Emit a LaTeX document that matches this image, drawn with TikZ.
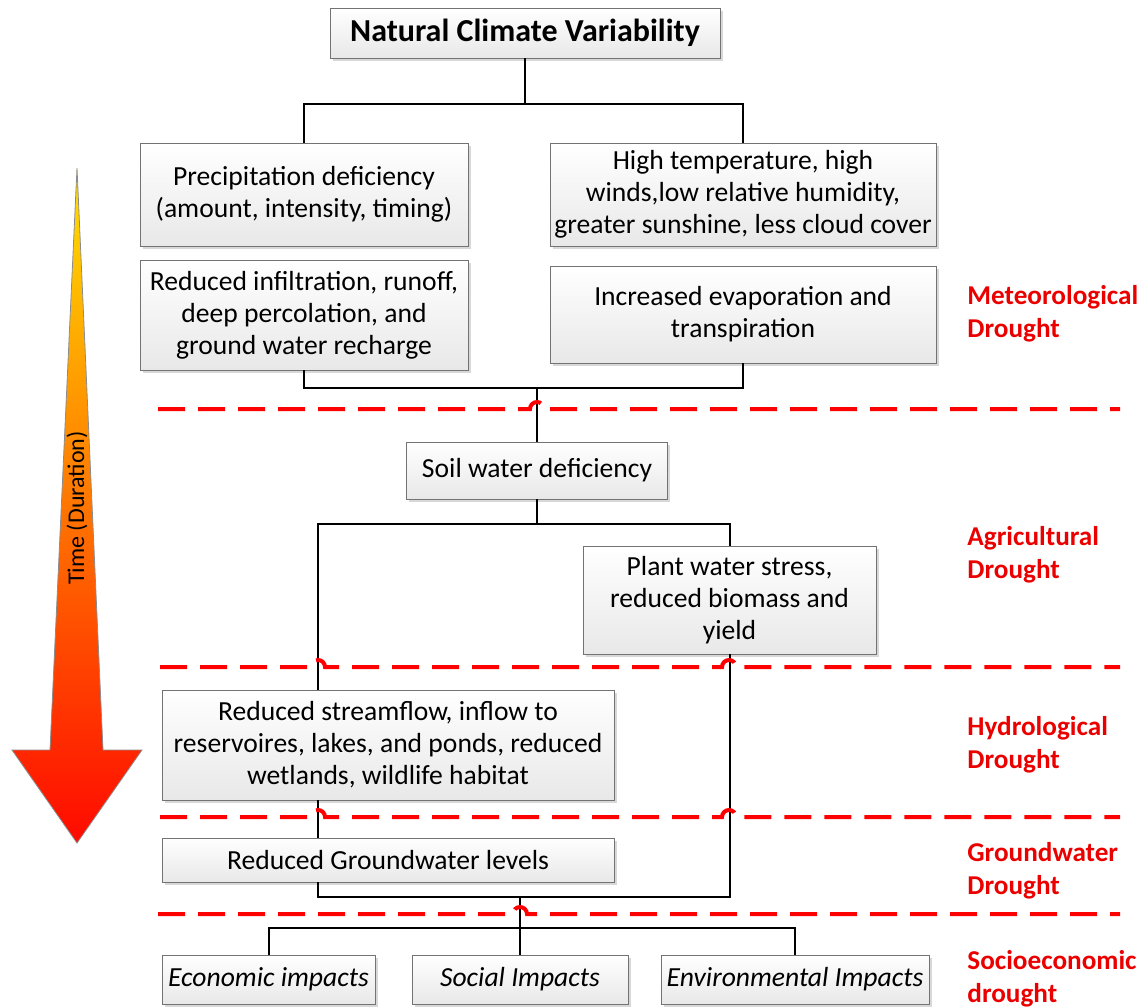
\documentclass[tikz,border=0pt]{standalone}
\usepackage{fontspec}
\setmainfont{Carlito}
\usepackage{tikz}
\usetikzlibrary{calc,shadows}
\definecolor{TimeYellow}{RGB}{255,225,0}
\definecolor{TimeOrange}{RGB}{255,130,0}
\definecolor{TimeRed}{RGB}{255,10,0}
\tikzset{
  dr/box/.style={draw=black!55, thin, top color=white, bottom color=black!9, align=center,
    inner sep=2pt, font=\fontsize{13.8}{16}\selectfont,
    drop shadow={shadow xshift=1.3pt, shadow yshift=-1.3pt, fill=black!30, opacity=0.5}},
  dr/title/.style={font=\bfseries\fontsize{16}{19}\selectfont},
  dr/impact/.style={font=\itshape\fontsize{13.8}{16}\selectfont, minimum height=24.5pt},
  dr/level/.style={anchor=west, align=left, inner sep=0pt, text=red!92!black,
    font=\bfseries\fontsize{13.6}{16.5}\selectfont},
  dr/link/.style={line width=1pt, black},
  dr/border/.style={line width=2pt, red, dash pattern=on 13.5pt off 6.5pt},
  dr/time/.style={draw=black!45, thin, top color=TimeYellow, middle color=TimeOrange, bottom color=TimeRed}
}

\begin{document}
\begin{tikzpicture}[x=0.5pt,y=-0.5pt]
\useasboundingbox (0,0) rectangle (1143,1007);
% time arrow
\shadedraw[dr/time] (77,168) -- (103,750) -- (142,750) -- (77,843) -- (12,750) -- (50,750) -- cycle;
\node[rotate=90, inner sep=0pt, font=\fontsize{12}{14}\selectfont] (time) at (77,508) {Time (Duration)};

% boxes
\node[dr/box, dr/title, minimum width=195pt, minimum height=25pt] (ncv) at (525,33) {Natural Climate Variability};
\node[dr/box, minimum width=164pt, minimum height=51.5pt] (precip) at (304,194.5) {Precipitation deficiency\\(amount, intensity, timing)};
\node[dr/box, minimum width=193pt, minimum height=51.5pt] (heat) at (743,194.5) {High temperature, high\\winds,low relative humidity,\\greater sunshine, less cloud cover};
\node[dr/box, minimum width=164pt, minimum height=55pt] (infil) at (304,315) {Reduced infiltration, runoff,\\deep percolation, and\\ground water recharge};
\node[dr/box, minimum width=193pt, minimum height=48.5pt] (evap) at (743,314.5) {Increased evaporation and\\transpiration};
\node[dr/box, minimum width=130.5pt, minimum height=28.5pt] (soil) at (537,470.5) {Soil water deficiency};
\node[dr/box, minimum width=146.5pt, minimum height=54pt] (plant) at (729.5,600) {Plant water stress,\\reduced biomass and\\yield};
\node[dr/box, minimum width=226pt, minimum height=55pt] (hydro) at (388,745) {Reduced streamflow, inflow to\\reservoires, lakes, and ponds, reduced\\wetlands, wildlife habitat};
\node[dr/box, minimum width=226pt, minimum height=22pt] (ground) at (388,860) {Reduced Groundwater levels};
\node[dr/box, dr/impact, minimum width=106.5pt] (econ) at (268.5,979.5) {Economic impacts};
\node[dr/box, dr/impact, minimum width=108pt] (social) at (520,979.5) {Social Impacts};
\node[dr/box, dr/impact, minimum width=134pt] (env) at (795,979.5) {Environmental Impacts};

% drought levels
\node[dr/level] (meteo) at (967,314) {Meteorological\\Drought};
\node[dr/level] (agri) at (967,555) {Agricultural\\Drought};
\node[dr/level] (hydrol) at (967,745) {Hydrological\\Drought};
\node[dr/level] (groundw) at (967,871) {Groundwater\\Drought};
\node[dr/level] (socio) at (967,979) {Socioeconomic\\drought};

% connectors
\coordinate (split) at (525,104);
\coordinate (merge) at (537,388);
\coordinate (fork) at (537,524);
\coordinate (join) at (520,897);
\coordinate (impact) at (520,928);
\draw[dr/link] (ncv.south) -- (split);
\draw[dr/link] (precip.north) |- (split) -| (heat.north);
\draw[dr/link] (infil.south) |- (merge) -| (evap.south);
\draw[dr/link] (merge) -- (soil.north);
\draw[dr/link] (soil.south) -- (fork);
\draw[dr/link] ($(hydro.north west)+(156,0)$) |- (fork) -| (plant.north);
\draw[dr/link] ($(hydro.south west)+(156,0)$) -- ($(ground.north west)+(156,0)$);
\draw[dr/link] ($(ground.south west)+(156,0)$) |- (join) -| (plant.south);
\draw[dr/link] (join) -- (impact);
\draw[dr/link] (econ.north) |- (impact) -| (env.north);
\draw[dr/link] (impact) -- (social.north);

% level borders with line hops
\draw[dr/border] (158,409) -- (530,409) arc[start angle=180, end angle=360, radius=7] -- (1120,409);
\draw[dr/border] (160,667) -- (311,667) arc[start angle=180, end angle=360, radius=7] -- (722,667) arc[start angle=180, end angle=360, radius=7] -- (1120,667);
\draw[dr/border] (160,817) -- (311,817) arc[start angle=180, end angle=360, radius=7] -- (722,817) arc[start angle=180, end angle=360, radius=7] -- (1120,817);
\draw[dr/border] (158,914) -- (513,914) arc[start angle=180, end angle=360, radius=7] -- (1120,914);
\end{tikzpicture}
\end{document}
